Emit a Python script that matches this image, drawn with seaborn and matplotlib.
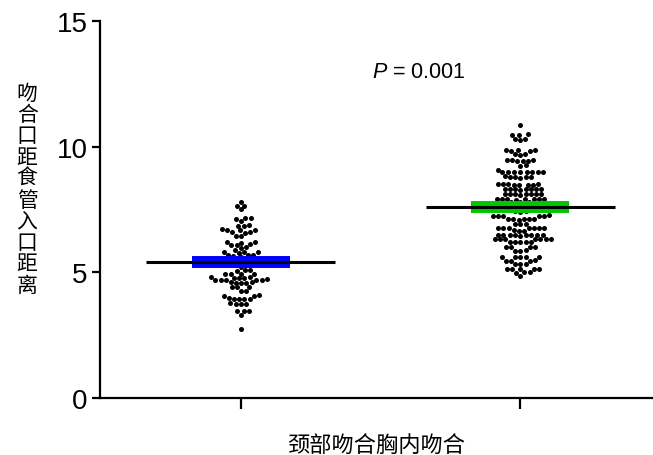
import numpy as np
import pandas as pd
import matplotlib
matplotlib.use("Agg")
import matplotlib.pyplot as plt
import seaborn as sns

# style first, fonts after (set_style resets font.family)
sns.set_style("ticks")
plt.rcParams['font.family'] = ['Liberation Sans', 'Noto Sans CJK SC', 'DejaVu Sans']
plt.rcParams['mathtext.fontset'] = 'custom'
plt.rcParams['mathtext.it'] = 'Liberation Sans:italic'
plt.rcParams['mathtext.rm'] = 'Liberation Sans'
plt.rcParams['text.color'] = 'black'
plt.rcParams['axes.labelcolor'] = 'black'
plt.rcParams['xtick.color'] = 'black'
plt.rcParams['ytick.color'] = 'black'
plt.rcParams['axes.edgecolor'] = 'black'

# Data
groups = ['颈部吻合', '胸内吻合']
cervical = [7.8, 7.65, 7.62, 7.5, 7.17, 7.15, 7.13, 7.05, 6.87, 6.85, 6.83,
            6.72, 6.7, 6.7, 6.68, 6.6, 6.6, 6.58, 6.46, 6.45, 6.22, 6.2, 6.18,
            6.12, 6.1, 6.1, 6.0, 5.98, 5.9, 5.82, 5.8, 5.8, 5.78, 5.7, 5.7,
            5.68, 5.66, 5.6, 5.5, 5.5, 5.4, 5.4, 5.3, 5.3, 5.2, 5.1, 5.08,
            5.06, 4.95, 4.94, 4.93, 4.92, 4.8, 4.8, 4.78, 4.77, 4.76, 4.72,
            4.71, 4.7, 4.7, 4.69, 4.68, 4.6, 4.6, 4.59, 4.58, 4.57, 4.42,
            4.41, 4.4, 4.27, 4.25, 4.08, 4.06, 4.05, 3.96, 3.95, 3.94, 3.93,
            3.92, 3.76, 3.75, 3.74, 3.73, 3.48, 3.46, 3.45, 3.3, 2.75]
thoracic = [10.86, 10.5, 10.47, 10.45, 10.32, 10.3, 10.28, 9.88, 9.86, 9.85,
            9.84, 9.83, 9.72, 9.7, 9.68, 9.48, 9.46, 9.45, 9.44, 9.43, 9.42,
            9.26, 9.24, 9.08, 9.0, 9.0, 8.99, 8.99, 8.98, 8.98, 8.97, 8.97,
            8.82, 8.8, 8.8, 8.79, 8.78, 8.77, 8.52, 8.51, 8.5, 8.5, 8.49,
            8.49, 8.48, 8.48, 8.33, 8.32, 8.32, 8.31, 8.31, 8.3, 8.3, 8.29,
            8.13, 8.12, 8.12, 8.11, 8.11, 8.1, 8.1, 8.09, 7.93, 7.92, 7.92,
            7.91, 7.91, 7.9, 7.9, 7.89, 7.8, 7.8, 7.78, 7.7, 7.65, 7.6, 7.55,
            7.5, 7.45, 7.42, 7.4, 7.26, 7.25, 7.25, 7.24, 7.24, 7.23, 7.13,
            7.12, 7.12, 7.11, 7.11, 7.1, 6.93, 6.92, 6.91, 6.78, 6.77, 6.77,
            6.76, 6.76, 6.75, 6.75, 6.67, 6.66, 6.65, 6.5, 6.5, 6.49, 6.49,
            6.48, 6.48, 6.47, 6.47, 6.46, 6.34, 6.33, 6.33, 6.32, 6.32, 6.31,
            6.31, 6.21, 6.2, 6.2, 6.19, 6.19, 6.01, 6.0, 6.0, 5.99, 5.87,
            5.86, 5.85, 5.61, 5.6, 5.6, 5.59, 5.59, 5.47, 5.46, 5.46, 5.45,
            5.34, 5.33, 5.32, 5.14, 5.13, 5.13, 5.12, 5.12, 5.01, 5.0, 4.99,
            4.87]
means = [5.4, 7.6]
bar_colors = ['#0000FF', '#00C800']
p_text = r'$\it{P}$ = 0.001'
y_label = '吻合口距食管入口距离'
x_label = '颈部吻合胸内吻合'

df = pd.DataFrame({
    'group': [groups[0]] * len(cervical) + [groups[1]] * len(thoracic),
    'value': cervical + thoracic,
})

fig = plt.figure(figsize=(6.53, 4.56), dpi=100)
ax = fig.add_axes([0.153, 0.125, 0.845, 0.827])

sns.swarmplot(data=df, x='group', y='value', order=groups, color='black',
              size=3.6, linewidth=0, ax=ax, zorder=2)

# mean bars: coloured band with black line on top
for i, m in enumerate(means):
    ax.plot([i - 0.175, i + 0.175], [m, m], color=bar_colors[i], lw=8.6,
            solid_capstyle='butt', zorder=3)
    ax.plot([i - 0.3375, i + 0.3375], [m, m], color='black', lw=2.2,
            solid_capstyle='butt', zorder=4)

ax.set_ylim(0, 15)
ax.set_xlim(-0.504, 1.47)
ax.set_yticks([0, 5, 10, 15])
ax.set_xticks([0, 1])
ax.set_xticklabels(['', ''])
ax.tick_params(axis='y', labelsize=20, length=6, width=1.6, pad=3)
ax.tick_params(axis='x', length=8, width=1.6)
for s in ['top', 'right']:
    ax.spines[s].set_visible(False)
for s in ['left', 'bottom']:
    ax.spines[s].set_linewidth(1.6)

ax.set_ylabel('\n'.join(y_label), rotation=0, fontsize=15, linespacing=1.14,
              va='center', ha='center')
ax.yaxis.set_label_coords(-0.132, 0.554)
ax.set_xlabel(x_label, fontsize=16, va='center')
ax.xaxis.set_label_coords(0.5, -0.125)

ax.text(0.468, 13.0, p_text, fontsize=15.5, va='center', ha='left')

fig.savefig('out.png', dpi=100)
